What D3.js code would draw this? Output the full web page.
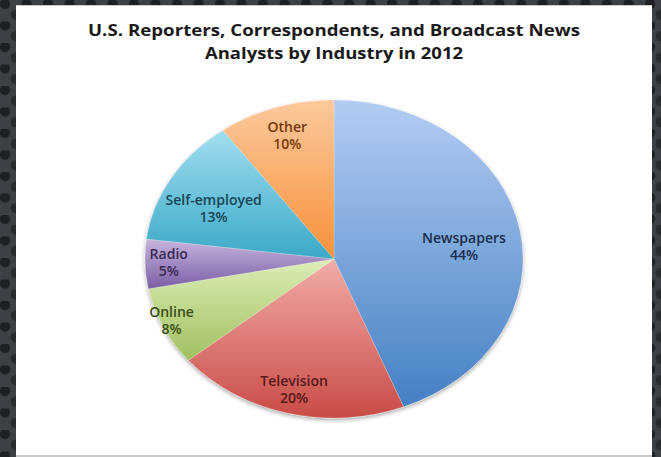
<!DOCTYPE html>
<html>
<head>
<meta charset="utf-8">
<script src="https://cdnjs.cloudflare.com/ajax/libs/d3/7.8.5/d3.min.js"></script>
<style>
	body { margin: 0; background: #3a3d42; }
	svg { display: block; }
</style>
</head>
<body>
<svg id="chart" width="661" height="457"></svg>
<script>
var categories = ["Newspapers", "Television", "Online", "Radio", "Self-employed", "Other"];
var shares = [44, 20, 8, 5, 13, 10];
var titleLines = ["U.S. Reporters, Correspondents, and Broadcast News", "Analysts by Industry in 2012"];

// colours per slice: gradient top, gradient bottom, label text
var topColors = ["#b3cdf3", "#f2aca8", "#dcedb7", "#c6b5de", "#a2def1", "#fcc99c"];
var bottomColors = ["#4580c4", "#c94b46", "#a0c05e", "#7a5ea4", "#3aa9c6", "#f7913a"];
var textColors = ["#1a2c4c", "#561a17", "#3a4e16", "#3b2952", "#184656", "#763708"];
// how far out (as a fraction of the radius) each label sits, plus a small vertical nudge
var labelRadius = [0.70, 0.85, 0.95, 0.875, 0.74, 0.80];
var labelDy = [8, -1, -3, -1, 9, -3];

var width = 661, height = 457;
var cx = 334, cy = 259, ry = 159, rx = 189;

var svg = d3.select("#chart");
var defs = svg.append("defs");

// dotted dark background
var pat = defs.append("pattern")
	.attr("id", "dots")
	.attr("patternUnits", "userSpaceOnUse")
	.attr("width", 21.5)
	.attr("height", 21.5);
pat.append("rect").attr("width", 21.5).attr("height", 21.5).attr("fill", "#3d4147");
pat.append("circle").attr("cx", 5).attr("cy", 4).attr("r", 5.2).attr("fill", "#1d2024");
pat.append("circle").attr("cx", 15.75).attr("cy", 14.75).attr("r", 5.2).attr("fill", "#272a2f");

svg.append("rect")
	.attr("width", width)
	.attr("height", height)
	.attr("fill", "url(#dots)");

svg.append("rect")
	.attr("x", 16).attr("y", 5)
	.attr("width", 636).attr("height", 452)
	.attr("fill", "#c9c9c9");
svg.append("rect")
	.attr("x", 16).attr("y", 6)
	.attr("width", 636).attr("height", 449)
	.attr("fill", "#ffffff");

// title
svg.append("g").selectAll("text")
	.data(titleLines)
	.enter().append("text")
	.attr("x", cx)
	.attr("y", function (d, i) {return 36 + i * 23;})
	.attr("text-anchor", "middle")
	.attr("font-family", "'Open Sans', sans-serif")
	.attr("font-weight", "bold")
	.attr("font-size", 16.5)
	.attr("fill", "#1a1a1a")
	.attr("textLength", function (d, i) {return i == 0 ? 492 : 258;})
	.attr("lengthAdjust", "spacingAndGlyphs")
	.text(function (d) {return d;});

categories.forEach(function (c, i) {
	var g = defs.append("linearGradient")
		.attr("id", "grad" + i)
		.attr("x1", 0).attr("y1", 0)
		.attr("x2", 0).attr("y2", 1);
	g.append("stop").attr("offset", "0%").attr("stop-color", topColors[i]);
	g.append("stop").attr("offset", "100%").attr("stop-color", bottomColors[i]);
});

var shadow = defs.append("filter").attr("id", "shadow")
	.attr("x", "-10%").attr("y", "-10%").attr("width", "120%").attr("height", "120%");
shadow.append("feGaussianBlur").attr("in", "SourceAlpha").attr("stdDeviation", 2).attr("result", "b");
shadow.append("feOffset").attr("in", "b").attr("dy", 1.5).attr("result", "o");
shadow.append("feComponentTransfer").attr("in", "o").attr("result", "s")
	.append("feFuncA").attr("type", "linear").attr("slope", 0.35);
var merge = shadow.append("feMerge");
merge.append("feMergeNode").attr("in", "s");
merge.append("feMergeNode").attr("in", "SourceGraphic");

var pie = d3.pie().sort(null).value(function (d) {return d;});
var arcs = pie(shares);
var arc = d3.arc().innerRadius(0).outerRadius(ry);

// the pie in the source is stretched sideways, so scale x
var pieG = svg.append("g")
	.attr("transform", "translate(" + cx + "," + cy + ") scale(" + (rx / ry) + ",1)")
	.attr("filter", "url(#shadow)");

pieG.selectAll("path")
	.data(arcs)
	.enter().append("path")
	.attr("d", arc)
	.attr("fill", function (d, i) {return "url(#grad" + i + ")";})
	.attr("stroke", "#ffffff")
	.attr("stroke-opacity", 0.4)
	.attr("stroke-width", 0.5);

var labels = svg.append("g").selectAll("text")
	.data(arcs)
	.enter().append("text")
	.attr("transform", function (d, i) {
		var a = (d.startAngle + d.endAngle) / 2;
		var x = cx + Math.sin(a) * rx * labelRadius[i];
		var y = cy - Math.cos(a) * ry * labelRadius[i] + labelDy[i];
		return "translate(" + x + "," + y + ") scale(1.04,1)";
	})
	.attr("text-anchor", "middle")
	.attr("font-family", "'Open Sans', sans-serif")
	.attr("font-weight", 600)
	.attr("font-size", 13.5)
	.attr("fill", function (d, i) {return textColors[i];});

labels.append("tspan")
	.attr("x", 0)
	.attr("y", -3)
	.text(function (d, i) {return categories[i];});

labels.append("tspan")
	.attr("x", 0)
	.attr("y", 14)
	.text(function (d) {return d.data + "%";});
</script>
</body>
</html>
